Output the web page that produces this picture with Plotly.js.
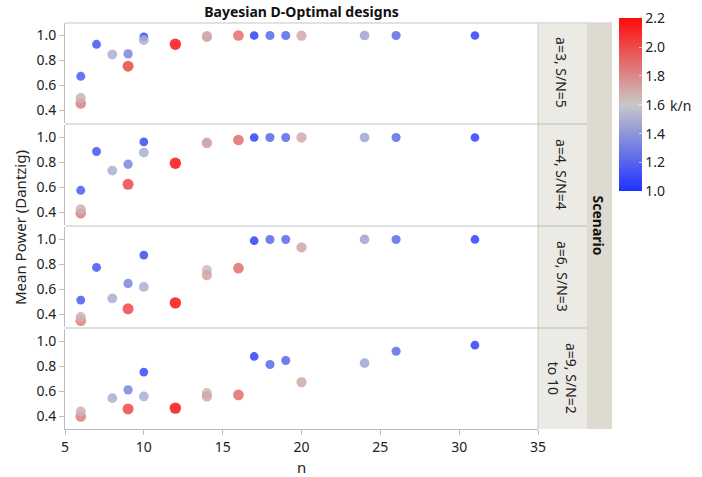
<!DOCTYPE html>
<html>
<head>
<meta charset="utf-8">
<script src="https://cdn.plot.ly/plotly-3.0.1.min.js"></script>
<style>html,body{margin:0;padding:0;background:#fff;}#chart{width:702px;height:477px;}</style>
</head>
<body>
<div id="chart"></div>
<script>
// Designs: run size n and ratio k/n
const nRuns  = [6, 6, 6, 7, 8, 9, 9, 10, 10, 12, 14, 14, 16, 17, 18, 19, 20, 24, 26, 31];
const kOverN = [1.17, 1.83, 1.67, 1.14, 1.50, 1.33, 2.00, 1.10, 1.50, 2.17, 1.64, 1.71, 1.88, 1.06, 1.22, 1.21, 1.70, 1.46, 1.23, 1.06];

const scenarios = ['a=3, S/N=5', 'a=4, S/N=4', 'a=6, S/N=3', 'a=9, S/N=2<br>to 10'];

const powerA3 = [0.674, 0.456, 0.50, 0.93, 0.848, 0.853, 0.755, 0.99, 0.963, 0.93, 0.995, 0.99, 1.0, 1.0, 1.0, 1.0, 1.0, 1.0, 1.0, 1.0];
const powerA4 = [0.578, 0.394, 0.426, 0.888, 0.736, 0.786, 0.626, 0.965, 0.88, 0.794, 0.96, 0.955, 0.98, 1.0, 1.0, 1.0, 1.0, 1.0, 1.0, 1.0];
const powerA6 = [0.515, 0.35, 0.38, 0.776, 0.528, 0.648, 0.445, 0.875, 0.62, 0.493, 0.755, 0.715, 0.77, 0.99, 1.0, 1.0, 0.936, 1.0, 1.0, 1.0];
const powerA9 = [null, 0.40, 0.44, null, 0.547, 0.613, 0.46, 0.755, 0.56, 0.467, 0.587, 0.56, 0.573, 0.88, 0.816, 0.848, 0.675, 0.826, 0.922, 0.97];

const powerSeries = [powerA3, powerA4, powerA6, powerA9];

const FONT = 'Segoe UI, Noto Sans, Open Sans, sans-serif';
const domains = [[0.7535, 1], [0.5023, 0.7488], [0.2512, 0.4977], [0, 0.2465]];
const sizes = kOverN.map(v => 8.5 + 3 * (v - 1) / 1.2);

const traces = powerSeries.map((p, i) => ({
  type: 'scatter', mode: 'markers',
  x: nRuns, y: p,
  xaxis: 'x', yaxis: i === 0 ? 'y' : 'y' + (i + 1),
  marker: {color: kOverN, coloraxis: 'coloraxis', size: sizes, opacity: 0.85, line: {width: 0}},
  showlegend: false, hoverinfo: 'x+y'
}));

const layout = {
  width: 702, height: 477,
  margin: {l: 65, r: 164, t: 23, b: 48},
  paper_bgcolor: '#ffffff', plot_bgcolor: '#ffffff',
  font: {family: FONT, size: 14, color: '#222'},
  title: {text: '<b>Bayesian D-Optimal designs</b>', x: 0.5, xref: 'paper', y: 0.975, yref: 'container', yanchor: 'middle', xanchor: 'center', font: {size: 14, color: '#111', family: FONT}},
  xaxis: {range: [5, 35], dtick: 5, tick0: 5, anchor: 'y4', showgrid: false, zeroline: false,
          showline: true, linecolor: '#BDBDBD', ticks: 'outside', ticklen: 5, tickcolor: '#BDBDBD',
          tickfont: {size: 14, color: '#222'}},
  coloraxis: {
    cmin: 1.0, cmax: 2.2,
    colorscale: [[0, 'rgb(30,50,255)'], [0.5, 'rgb(200,200,200)'], [1, 'rgb(255,10,10)']],
    colorbar: {x: 1.172, xanchor: 'left', xpad: 0, y: 1.0116, yanchor: 'top', ypad: 0, len: 173, lenmode: 'pixels',
               thickness: 23, outlinewidth: 0, tick0: 1.0, dtick: 0.2, tickformat: '.1f',
               ticks: 'inside', ticklen: 3, tickcolor: 'rgba(255,255,255,0.6)', tickfont: {size: 14, color: '#222'}}
  },
  shapes: [], annotations: []
};

domains.forEach((d, i) => {
  const key = i === 0 ? 'yaxis' : 'yaxis' + (i + 1);
  layout[key] = {domain: d, anchor: 'x', range: [0.3, 1.1], tickvals: [0.4, 0.6, 0.8, 1.0], tickformat: '.1f',
    showgrid: false, zeroline: false, showline: true, linecolor: '#BDBDBD', ticks: 'outside', ticklen: 5,
    tickcolor: '#BDBDBD', tickfont: {size: 14, color: '#222'}};
});

// strip backgrounds
layout.shapes.push({type: 'rect', xref: 'paper', yref: 'paper', x0: 1.0, x1: 1.1036, y0: 0, y1: 1, fillcolor: '#EBEAE4', line: {width: 0}, layer: 'below'});
layout.shapes.push({type: 'rect', xref: 'paper', yref: 'paper', x0: 1.1036, x1: 1.1564, y0: 0, y1: 1, fillcolor: '#DDDBD0', line: {width: 0}, layer: 'below'});
// gaps between panels
for (let i = 0; i < 3; i++) {
  layout.shapes.push({type: 'rect', xref: 'paper', yref: 'paper', x0: 0, x1: 1.0, y0: domains[i + 1][1], y1: domains[i][0], fillcolor: '#E0E0E0', line: {width: 0}});
  layout.shapes.push({type: 'rect', xref: 'paper', yref: 'paper', x0: 1.0, x1: 1.1036, y0: domains[i + 1][1], y1: domains[i][0], fillcolor: '#D5D4CC', line: {width: 0}});
}
// top border and right border
layout.shapes.push({type: 'line', xref: 'paper', yref: 'paper', x0: 0, x1: 1.1564, y0: 1, y1: 1, line: {color: '#D8D8D8', width: 1.5}});
layout.shapes.push({type: 'line', xref: 'paper', yref: 'paper', x0: 1, x1: 1, y0: 0, y1: 1, line: {color: '#C8C8C8', width: 1}});

// strip labels
scenarios.forEach((s, i) => {
  const d = domains[i];
  layout.annotations.push({text: s, xref: 'paper', yref: 'paper', x: 1.0507, y: (d[0] + d[1]) / 2,
    xanchor: 'center', yanchor: 'middle', textangle: 90, showarrow: false, font: {size: 14, color: '#222'}});
});
layout.annotations.push({text: '<b>Scenario</b>', xref: 'paper', yref: 'paper', x: 1.13, y: 0.5,
  xanchor: 'center', yanchor: 'middle', textangle: 90, showarrow: false, font: {size: 14, color: '#111'}});
layout.annotations.push({text: 'Mean Power (Dantzig)', xref: 'paper', yref: 'paper', x: -0.095, y: 0.495,
  xanchor: 'center', yanchor: 'middle', textangle: -90, showarrow: false, font: {size: 15, color: '#222'}});
layout.annotations.push({text: 'n', xref: 'paper', yref: 'paper', x: 0.5, y: -0.0936,
  xanchor: 'center', yanchor: 'middle', showarrow: false, font: {size: 15, color: '#222'}});
layout.annotations.push({text: 'k/n', xref: 'paper', yref: 'paper', x: 1.274, y: 0.798,
  xanchor: 'left', yanchor: 'middle', showarrow: false, font: {size: 14, color: '#222'}});

Plotly.newPlot('chart', traces, layout, {displayModeBar: false, staticPlot: true});
</script>
</body>
</html>
